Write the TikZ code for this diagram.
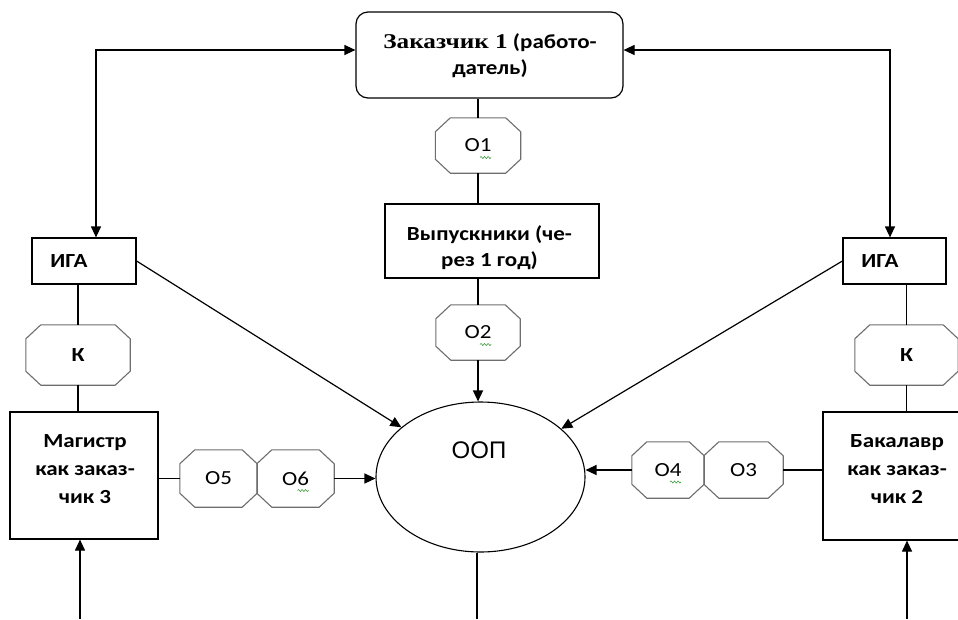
\documentclass[tikz,border=0pt]{standalone}
\usepackage{fontspec}
\usetikzlibrary{arrows.meta,calc,shapes.geometric,decorations.pathmorphing}
\newfontfamily\calfont[FakeStretch=1.15]{Carlito}
\newfontfamily\serfont[FakeStretch=1.2]{Liberation Serif}
\newfontfamily\arfont{Liberation Sans}
\definecolor{octgray}{HTML}{6E6E6E}
\definecolor{spellgreen}{HTML}{3C9A3C}
\newcommand\octdraw[1]{%
  \draw[octline] ($(#1.north west)+(15,0)$) -- ($(#1.north east)+(-15,0)$)
    -- ($(#1.north east)+(0,14)$) -- ($(#1.south east)+(0,-14)$)
    -- ($(#1.south east)+(-15,0)$) -- ($(#1.south west)+(15,0)$)
    -- ($(#1.south west)+(0,-14)$) -- ($(#1.north west)+(0,14)$) -- cycle;}
\newcommand\spellmark[1]{%
  \draw[spell] ($(#1.center)+(2,12)$) -- ($(#1.center)+(13,12)$);}
\begin{document}
\begin{tikzpicture}[x=1pt,y=-1pt,
  box/.style={draw, line width=1.2pt, inner sep=0pt, fill=white},
  btxt/.style={align=center, inner sep=0pt, font=\calfont\bfseries\fontsize{20}{26}\selectfont},
  btxtb/.style={align=center, inner sep=0pt, font=\calfont\bfseries\fontsize{20}{28}\selectfont},
  oct/.style={inner sep=0pt, font=\calfont\fontsize{20}{24}\selectfont},
  octb/.style={inner sep=0pt, font=\calfont\bfseries\fontsize{20}{24}\selectfont},
  octline/.style={draw=octgray, line width=1.1pt},
  spell/.style={draw=spellgreen, line width=0.6pt, decorate, decoration={snake, amplitude=1pt, segment length=3.5pt}},
  ln/.style={draw, line width=1.2pt},
  arr/.style={ln, -{Triangle[length=11pt,width=10pt]}},
  arrboth/.style={ln, {Triangle[length=11pt,width=10pt]}-{Triangle[length=11pt,width=10pt]}}
]
\useasboundingbox (0,0) rectangle (958,619);
\clip (0,0) rectangle (958,619);
\fill[white] (0,0) rectangle (958,619);

% top box
\node[box, rounded corners=12pt, minimum width=267pt, minimum height=86pt] (top) at (489.5,55) {};
\node[btxt] (topt) at (490,56) {{\serfont\bfseries\fontsize{21}{26}\selectfont Заказчик 1} (работо-\\датель)};

% central column
\node[oct, minimum width=85pt, minimum height=55pt] (o1) at (478,145.5) {O1};
\octdraw{o1}
\spellmark{o1}
\node[box, minimum width=214pt, minimum height=74pt] (vyp) at (492,241) {};
\node[btxt] (vypt) at (489.5,248) {Выпускники (че-\\рез 1 год)};
\node[oct, minimum width=84pt, minimum height=55pt] (o2) at (478,332.5) {O2};
\octdraw{o2}
\spellmark{o2}

\node[draw, line width=1.1pt, ellipse, minimum width=209pt, minimum height=150pt, inner sep=0pt] (ell) at (480.5,477) {};
\node[inner sep=0pt, font=\arfont\fontsize{24}{28}\selectfont] (ellt) at (479,450) {ООП};

% left column
\node[box, minimum width=104pt, minimum height=46pt] (igaL) at (84,261) {};
\node[btxt] (igaLt) at (69,261) {ИГА};
\node[octb, minimum width=104pt, minimum height=60pt] (kL) at (78,355) {К};
\octdraw{kL}
\node[box, minimum width=148pt, minimum height=127pt] (mag) at (84,475.5) {};
\node[btxtb] (magt) at (85,469) {Магистр\\как заказ-\\чик 3};
\node[oct, minimum width=77pt, minimum height=57pt] (o5) at (218.5,478.5) {O5};
\octdraw{o5}
\node[oct, minimum width=77pt, minimum height=57pt] (o6) at (295.5,478.5) {O6};
\octdraw{o6}
\spellmark{o6}

% right column
\node[box, minimum width=103pt, minimum height=46pt] (igaR) at (894.5,261) {};
\node[btxt] (igaRt) at (880,261) {ИГА};
\node[octb, minimum width=103pt, minimum height=60pt] (kR) at (906.5,355) {К};
\octdraw{kR}
\node[box, minimum width=152pt, minimum height=128pt] (bak) at (899,476) {};
\node[btxtb] (bakt) at (897,469) {Бакалавр\\как заказ-\\чик 2};
\node[oct, minimum width=72pt, minimum height=56pt] (o4) at (668,470) {O4};
\octdraw{o4}
\spellmark{o4}
\node[oct, minimum width=79pt, minimum height=56pt] (o3) at (743.5,470) {O3};
\octdraw{o3}

\coordinate (bL) at (80,619);
\coordinate (bR) at (907,619);
\coordinate (bE) at (477,619);

% connectors
\draw[arrboth] ($(top.west)+(0,-5)$) -| ([xshift=12pt]igaL.north);
\draw[arrboth] ($(top.east)+(0,-5)$) -| ([xshift=-4.5pt]igaR.north);
\draw[ln] (top.south -| o1) -- (o1.north);
\draw[ln] (o1.south) -- (o1.south |- vyp.north);
\draw[ln] (vyp.south -| o2) -- (o2.north);
\draw[arr] (o2.south) -- (o2.south |- ell.north);
\draw[ln] (bE |- ell.south) -- (bE);

\draw[ln] (igaL.south -| kL) -- (kL.north);
\draw[ln] (kL.south) -- (kL.south |- mag.north);
\draw[arr] (bL) -- (bL |- mag.south);
\draw[ln] (o5.west -| mag.east) -- (o5.west);
\draw[arr] (o6.east) -- (o6.east -| ell.west);

\draw[ln] (igaR.south -| kR) -- (kR.north);
\draw[ln] (kR.south) -- (kR.south |- bak.north);
\draw[arr] (bR) -- (bR |- bak.south);
\draw[ln] (o3.east -| bak.west) -- (o3.east);
\draw[arr] (o4.west) -- (o4.west -| ell.east);

\draw[arr] (igaL.east) -- (ell);
\draw[arr] (igaR.west) -- (ell);
\end{tikzpicture}
\end{document}
